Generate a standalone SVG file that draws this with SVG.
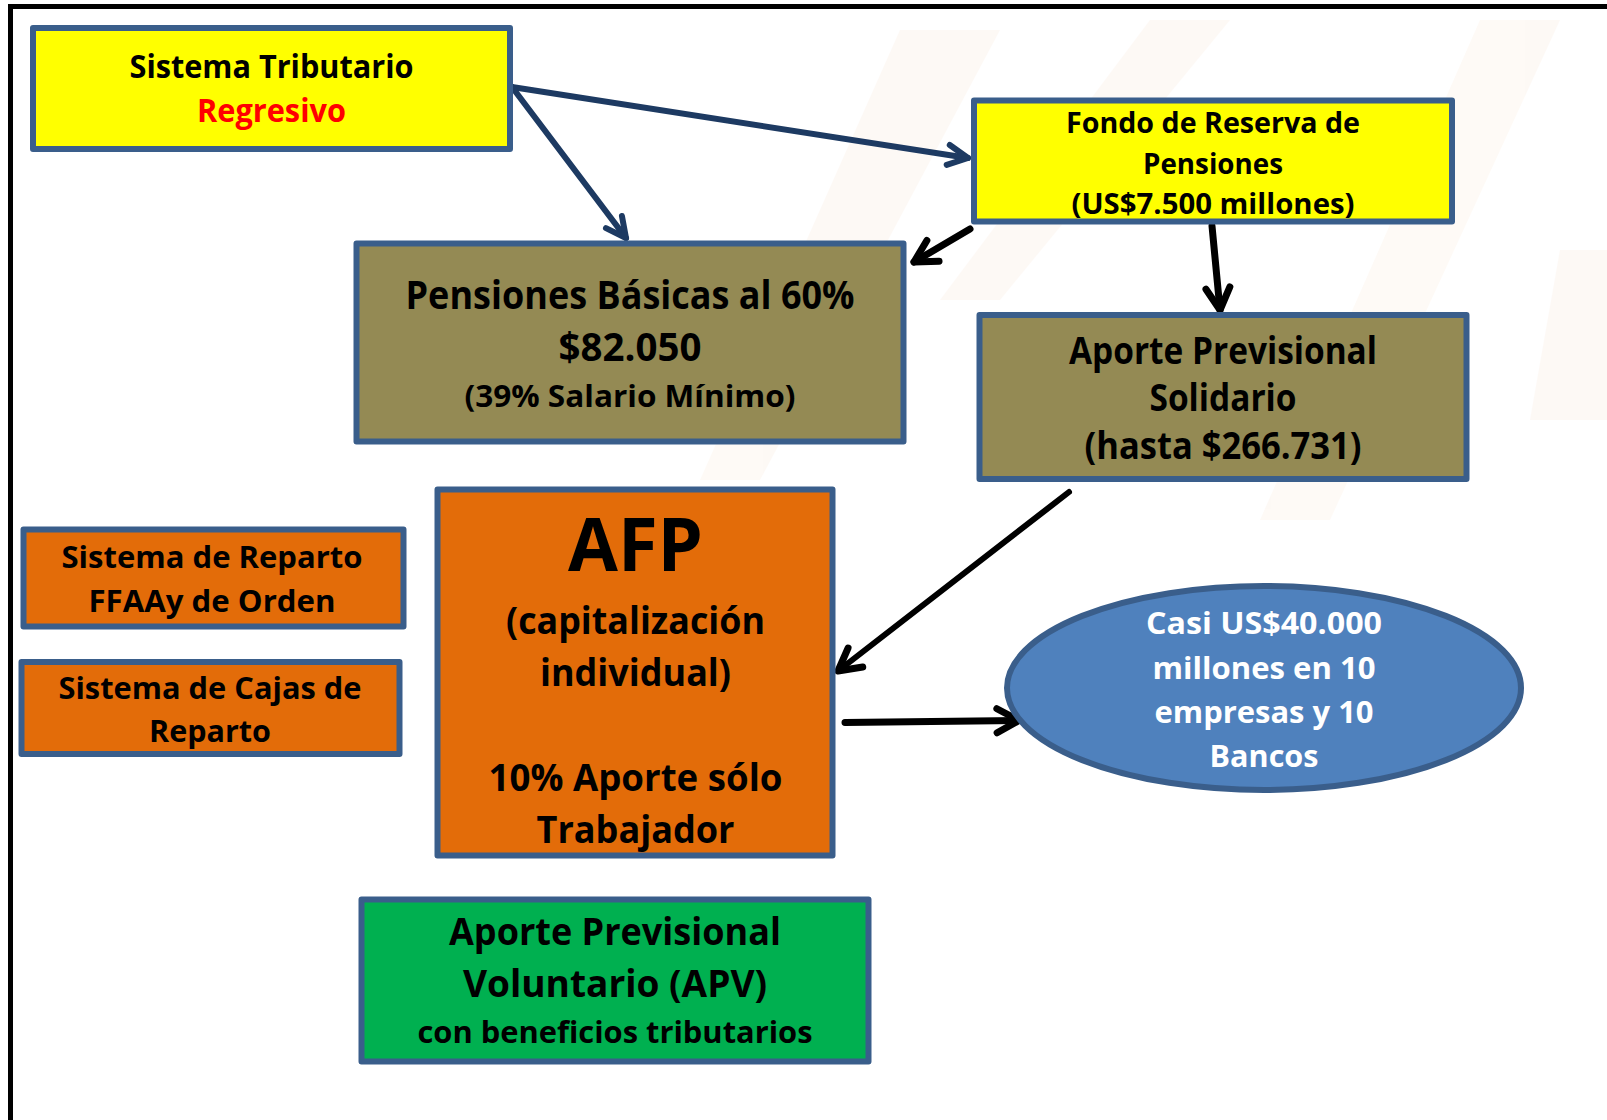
<svg xmlns="http://www.w3.org/2000/svg" width="1607" height="1120" viewBox="0 0 1607 1120">
<style>
.box{stroke:#3a5e8b;stroke-width:6;stroke-linejoin:round}
.t{font-family:"Open Sans","Liberation Sans",sans-serif;font-weight:bold;text-anchor:middle;fill:#000}
.w{fill:#fff}
.navy{stroke:#1d3a62;stroke-width:6;fill:none;stroke-linecap:round}
.blk{stroke:#000;stroke-width:7;fill:none;stroke-linecap:round}
</style>
<defs>
<marker id="an" markerUnits="userSpaceOnUse" viewBox="0 0 28 28" refX="24" refY="14" markerWidth="28" markerHeight="28" orient="auto">
<path d="M4,4 L24,14 L4,24" fill="none" stroke="#1d3a62" stroke-width="6" stroke-linecap="round" stroke-linejoin="round"/>
</marker>
<marker id="ab" markerUnits="userSpaceOnUse" viewBox="0 0 32 32" refX="27" refY="16" markerWidth="32" markerHeight="32" orient="auto">
<path d="M5,4 L27,16 L5,28" fill="none" stroke="#000" stroke-width="7" stroke-linecap="round" stroke-linejoin="round"/>
</marker>
</defs>
<rect width="1607" height="1120" fill="#fff"/>
<g id="watermark" opacity="0.12">
<polygon points="900,30 1000,30 760,480 700,480" fill="#f6d2b4"/>
<polygon points="1150,20 1230,20 1000,300 940,300" fill="#f6d2b4"/>
<polygon points="1480,20 1560,20 1330,520 1260,520" fill="#f6d2b4"/>
<polygon points="1560,250 1607,250 1607,420 1530,420" fill="#f6d2b4"/>
</g>
<g id="frame">
<line x1="8" y1="6.5" x2="1607" y2="6.5" stroke="#000" stroke-width="5"/>
<line x1="10.5" y1="4" x2="10.5" y2="1120" stroke="#000" stroke-width="5"/>
</g>
<g id="connectors">
<line class="navy" x1="512" y1="87" x2="968" y2="158" marker-end="url(#an)"/>
<line class="navy" x1="512" y1="87" x2="626" y2="238" marker-end="url(#an)"/>
<line class="blk" x1="970" y1="229" x2="914" y2="262" marker-end="url(#ab)"/>
<line class="blk" x1="1212" y1="226" x2="1220" y2="310" marker-end="url(#ab)"/>
<line class="blk" style="stroke-width:6" x1="1069" y1="492" x2="838" y2="671" marker-end="url(#ab)"/>
<line class="blk" x1="845" y1="722.5" x2="1019" y2="720.5" marker-end="url(#ab)"/>
</g>
<g id="sistema-tributario">
<rect class="box" x="33" y="28" width="477" height="121" fill="#ffff00"/>
<text class="t" x="271.5" y="78" font-size="32" textLength="284" lengthAdjust="spacingAndGlyphs">Sistema Tributario</text>
<text class="t" x="271.5" y="122" font-size="32" style="fill:#ff0000" textLength="149" lengthAdjust="spacingAndGlyphs">Regresivo</text>
</g>
<g id="fondo-reserva">
<rect class="box" x="974" y="100.5" width="478" height="121" fill="#ffff00"/>
<text class="t" x="1213" y="133" font-size="29" textLength="294" lengthAdjust="spacingAndGlyphs">Fondo de Reserva de</text>
<text class="t" x="1213" y="174" font-size="29" textLength="140" lengthAdjust="spacingAndGlyphs">Pensiones</text>
<text class="t" x="1213" y="214" font-size="29" textLength="283" lengthAdjust="spacingAndGlyphs">(US$7.500 millones)</text>
</g>
<g id="pensiones-basicas">
<rect class="box" x="356.5" y="243.5" width="547" height="198" fill="#948a54"/>
<text class="t" x="630" y="309" font-size="39" textLength="449" lengthAdjust="spacingAndGlyphs">Pensiones Básicas al 60%</text>
<text class="t" x="630" y="361" font-size="39" textLength="143" lengthAdjust="spacingAndGlyphs">$82.050</text>
<text class="t" x="630" y="407" font-size="31" textLength="331" lengthAdjust="spacingAndGlyphs">(39% Salario Mínimo)</text>
</g>
<g id="aporte-solidario">
<rect class="box" x="979.5" y="315" width="487" height="164" fill="#948a54"/>
<text class="t" x="1223" y="364" font-size="37" textLength="308" lengthAdjust="spacingAndGlyphs">Aporte Previsional</text>
<text class="t" x="1223" y="411" font-size="37" textLength="147" lengthAdjust="spacingAndGlyphs">Solidario</text>
<text class="t" x="1223" y="459" font-size="37" textLength="277" lengthAdjust="spacingAndGlyphs">(hasta $266.731)</text>
</g>
<g id="reparto-ffaa">
<rect class="box" x="23.5" y="529.5" width="380" height="97" fill="#e36c09"/>
<text class="t" x="212" y="568" font-size="30" textLength="301" lengthAdjust="spacingAndGlyphs">Sistema de Reparto</text>
<text class="t" x="212" y="612" font-size="30" textLength="247" lengthAdjust="spacingAndGlyphs">FFAAy de Orden</text>
</g>
<g id="cajas-reparto">
<rect class="box" x="21.5" y="662" width="378" height="92" fill="#e36c09"/>
<text class="t" x="210" y="699" font-size="30" textLength="303" lengthAdjust="spacingAndGlyphs">Sistema de Cajas de</text>
<text class="t" x="210" y="742" font-size="30" textLength="122" lengthAdjust="spacingAndGlyphs">Reparto</text>
</g>
<g id="afp">
<rect class="box" x="437.5" y="489.5" width="395" height="366" fill="#e36c09"/>
<text class="t" x="635.5" y="571" font-size="74" textLength="135" lengthAdjust="spacingAndGlyphs">AFP</text>
<text class="t" x="635.5" y="634" font-size="38" textLength="259" lengthAdjust="spacingAndGlyphs">(capitalización</text>
<text class="t" x="635.5" y="686" font-size="38" textLength="191" lengthAdjust="spacingAndGlyphs">individual)</text>
<text class="t" x="635.5" y="791" font-size="38" textLength="294" lengthAdjust="spacingAndGlyphs">10% Aporte sólo</text>
<text class="t" x="635.5" y="843" font-size="38" textLength="198" lengthAdjust="spacingAndGlyphs">Trabajador</text>
</g>
<g id="casi-40000">
<ellipse cx="1264" cy="688" rx="257" ry="102" fill="#4f81bd" stroke="#3a5e8b" stroke-width="6"/>
<text class="t w" x="1264" y="634" font-size="31" style="fill:#fff" textLength="236" lengthAdjust="spacingAndGlyphs">Casi US$40.000</text>
<text class="t w" x="1264" y="679" font-size="31" style="fill:#fff" textLength="223" lengthAdjust="spacingAndGlyphs">millones en 10</text>
<text class="t w" x="1264" y="723" font-size="31" style="fill:#fff" textLength="219" lengthAdjust="spacingAndGlyphs">empresas y 10</text>
<text class="t w" x="1264" y="767" font-size="31" style="fill:#fff" textLength="109" lengthAdjust="spacingAndGlyphs">Bancos</text>
</g>
<g id="apv">
<rect class="box" x="361.5" y="899.5" width="507" height="162" fill="#00b050"/>
<text class="t" x="615" y="945" font-size="37" textLength="332" lengthAdjust="spacingAndGlyphs">Aporte Previsional</text>
<text class="t" x="615" y="997" font-size="37" textLength="304" lengthAdjust="spacingAndGlyphs">Voluntario (APV)</text>
<text class="t" x="615" y="1043" font-size="31" textLength="395" lengthAdjust="spacingAndGlyphs">con beneficios tributarios</text>
</g>
</svg>
